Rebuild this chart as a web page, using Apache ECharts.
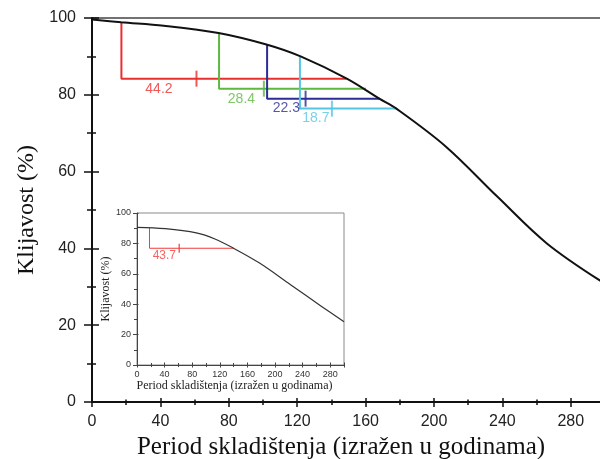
<!DOCTYPE html>
<html>
<head>
<meta charset="utf-8">
<script src="https://cdn.jsdelivr.net/npm/echarts@6/dist/echarts.min.js"></script>
<style>html,body{margin:0;padding:0;background:#fff}#c{width:600px;height:459px}</style>
</head>
<body>
<div id="c"></div>
<script>
// ---- data ----
const mainYears      = [0, 17, 42, 74, 102, 122, 149, 168, 178, 207, 237, 266, 300];
const mainViability  = [99.6, 98.9, 98.0, 96.1, 93.1, 90.0, 84.2, 79.0, 76.4, 66.5, 53.5, 41.3, 30.8];

const insetYears     = [0, 41, 86, 113, 140, 177, 222, 267, 300];
const insetViability = [90.6, 89.7, 86.9, 82.9, 76.8, 67.2, 53.0, 38.7, 28.4];

const xTickLabels = ['0', '40', '80', '120', '160', '200', '240', '280'];
const yTickLabels = ['0', '20', '40', '60', '80', '100'];
const xAxisTitle = 'Period skladištenja (izražen u godinama)';
const yAxisTitle = 'Klijavost (%)';

// main-chart annotations (red, green, blue, cyan)
const annoLabels = ['44.2', '28.4', '22.3', '18.7'];
const annoStartX = [17.2, 74.3, 102.4, 121.6];
const annoTopY   = [98.9, 96.1, 93.1, 90.0];
const annoLevelY = [84.2, 81.6, 79.0, 76.4];
const annoEndX   = [148.9, 160.2, 168.4, 178.2];
const annoTickX  = [61.1, 100.5, 124.9, 140.3];

// inset annotation
const insetAnnoLabels = ['43.7'];
const insetAnnoStartX = [18.1];
const insetAnnoTopY   = [90.3];
const insetAnnoLevelY = [76.8];
const insetAnnoEndX   = [140.5];
const insetAnnoTickX  = [61.2];

// ---- styles ----
const annoColors = ['#e8302c', '#5cb83f', '#2c2c94', '#55c6e2'];
const insetAnnoColors = ['#f03c3c'];
const sans = 'Liberation Sans, Arial, sans-serif';
const serif = 'Liberation Serif, Times New Roman, serif';

const fmtX = v => (xTickLabels.indexOf(String(v)) >= 0 ? String(v) : '');
const fmtY = v => (yTickLabels.indexOf(String(v)) >= 0 ? String(v) : '');

function xAx(grid, interval, inside, len, color, width, extra) {
  return Object.assign({
    type: 'value', gridIndex: grid, min: 0, max: 300, interval: interval,
    position: 'bottom',
    axisLine: { show: false, onZero: false },
    axisTick: { show: true, inside: inside, length: len, lineStyle: { color: color, width: width } },
    axisLabel: { show: false },
    splitLine: { show: false }
  }, extra || {});
}
function yAx(grid, inside, len, minorLen, color, width, extra) {
  return Object.assign({
    type: 'value', gridIndex: grid, min: 0, max: 100, interval: 20,
    position: 'left',
    axisLine: { show: false, onZero: false },
    axisTick: { show: true, inside: inside, length: len, lineStyle: { color: color, width: width } },
    minorTick: { show: minorLen > 0, splitNumber: 2, length: minorLen, lineStyle: { color: color, width: width } },
    axisLabel: { show: false },
    splitLine: { show: false }
  }, extra || {});
}

const xAxes = [
  xAx(0, 40, false, 5, '#111', 1.5, {
    axisLine: { show: true, onZero: false, lineStyle: { color: '#111', width: 2 } },
    axisLabel: { show: true, fontSize: 16, color: '#222', fontFamily: sans, margin: 12, formatter: fmtX },
    name: xAxisTitle, nameLocation: 'middle', nameGap: 29,
    nameTextStyle: { fontFamily: serif, fontSize: 25, color: '#111', padding: [0, 15, 0, 0] }
  }),
  xAx(0, 40, true, 4, '#111', 1.5),
  xAx(0, 20, false, 3, '#111', 1.5),
  xAx(0, 20, true, 2.5, '#111', 1.5),
  xAx(1, 40, false, 2.5, '#444', 1, {
    axisLine: { show: true, onZero: false, lineStyle: { color: '#444', width: 1 } },
    axisLabel: { show: true, fontSize: 9, color: '#333', fontFamily: sans, margin: 5, formatter: fmtX },
    name: xAxisTitle, nameLocation: 'middle', nameGap: 15,
    nameTextStyle: { fontFamily: serif, fontSize: 12, color: '#222', padding: [0, 12, 0, 0] }
  }),
  xAx(1, 40, true, 2.5, '#444', 1),
  xAx(1, 20, false, 2, '#444', 1),
  xAx(1, 20, true, 2, '#444', 1)
];

const yAxes = [
  yAx(0, false, 8, 5, '#111', 1.5, {
    axisLine: { show: true, onZero: false, lineStyle: { color: '#111', width: 2 } },
    axisLabel: { show: true, fontSize: 16, color: '#222', fontFamily: sans, margin: 16, formatter: fmtY },
    name: yAxisTitle, nameLocation: 'middle', nameGap: 51, nameRotate: 90,
    nameTextStyle: { fontFamily: serif, fontSize: 24, color: '#111' }
  }),
  yAx(0, true, 7, 4, '#111', 1.5),
  yAx(1, false, 4, 3, '#444', 1, {
    axisLine: { show: true, onZero: false, lineStyle: { color: '#444', width: 1 } },
    axisLabel: { show: true, fontSize: 9, color: '#333', fontFamily: sans, margin: 6, formatter: fmtY },
    name: yAxisTitle, nameLocation: 'middle', nameGap: 19, nameRotate: 90,
    nameTextStyle: { fontFamily: serif, fontSize: 12, color: '#222' }
  }),
  yAx(1, true, 1.5, 0, '#444', 1)
];

const series = [];
series.push({
  type: 'line', xAxisIndex: 0, yAxisIndex: 0, z: 5,
  data: mainYears.map((x, i) => [x, mainViability[i]]),
  smooth: 0.35, showSymbol: false, symbol: 'none',
  lineStyle: { color: '#111', width: 2 }
});
annoLabels.forEach((lab, i) => {
  const c = annoColors[i];
  series.push({
    type: 'line', xAxisIndex: 0, yAxisIndex: 0, z: 3, symbol: 'none',
    data: [[annoStartX[i], annoTopY[i]], [annoStartX[i], annoLevelY[i]], [annoEndX[i], annoLevelY[i]]],
    lineStyle: { color: c, width: 2 }
  });
  series.push({
    type: 'scatter', xAxisIndex: 0, yAxisIndex: 0, z: 4,
    symbol: 'rect', symbolSize: [2, 16],
    data: [[annoTickX[i], annoLevelY[i]]],
    itemStyle: { color: c }
  });
  series.push({
    type: 'scatter', xAxisIndex: 0, yAxisIndex: 0, z: 4,
    symbolSize: 0,
    data: [[(annoStartX[i] + annoTickX[i]) / 2, annoLevelY[i]]],
    label: { show: true, position: 'bottom', distance: 3, formatter: lab, color: c, fontSize: 14, fontFamily: sans }
  });
});

series.push({
  type: 'line', xAxisIndex: 4, yAxisIndex: 2, z: 5,
  data: insetYears.map((x, i) => [x, insetViability[i]]),
  smooth: 0.35, showSymbol: false, symbol: 'none',
  lineStyle: { color: '#333', width: 1.2 }
});
insetAnnoLabels.forEach((lab, i) => {
  const c = insetAnnoColors[i];
  series.push({
    type: 'line', xAxisIndex: 4, yAxisIndex: 2, z: 3, symbol: 'none',
    data: [[insetAnnoStartX[i], insetAnnoTopY[i]], [insetAnnoStartX[i], insetAnnoLevelY[i]], [insetAnnoEndX[i], insetAnnoLevelY[i]]],
    lineStyle: { color: c, width: 1 }
  });
  series.push({
    type: 'scatter', xAxisIndex: 4, yAxisIndex: 2, z: 4,
    symbol: 'rect', symbolSize: [1.5, 9],
    data: [[insetAnnoTickX[i], insetAnnoLevelY[i]]],
    itemStyle: { color: c }
  });
  series.push({
    type: 'scatter', xAxisIndex: 4, yAxisIndex: 2, z: 4,
    symbolSize: 0,
    data: [[(insetAnnoStartX[i] + insetAnnoTickX[i]) / 2, insetAnnoLevelY[i]]],
    label: { show: true, position: 'bottom', distance: 1, formatter: lab, color: c, fontSize: 12, fontFamily: sans }
  });
});

const chart = echarts.init(document.getElementById('c'), null, { renderer: 'canvas' });
chart.setOption({
  animation: false,
  backgroundColor: '#fff',
  grid: [
    { left: 92, top: 18, width: 513, height: 384, show: true, borderColor: '#444', borderWidth: 1.5,
      backgroundColor: 'transparent', containLabel: false, outerBoundsMode: 'none' },
    { left: 137, top: 213, width: 207, height: 152, show: true, borderColor: '#8a8a8a', borderWidth: 1,
      backgroundColor: '#fff', containLabel: false, outerBoundsMode: 'none' }
  ],
  xAxis: xAxes,
  yAxis: yAxes,
  series: series
});
</script>
</body>
</html>
